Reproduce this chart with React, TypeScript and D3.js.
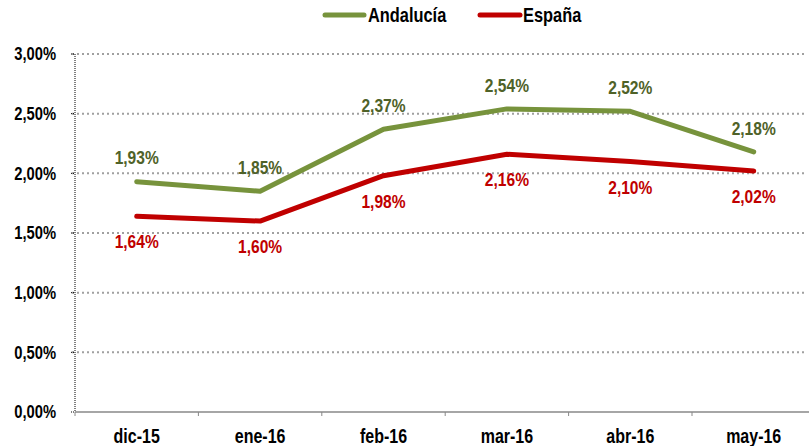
import React from "react";
import * as d3 from "d3";

const categories = ["dic-15", "ene-16", "feb-16", "mar-16", "abr-16", "may-16"];
const andalucia = [1.93, 1.85, 2.37, 2.54, 2.52, 2.18];
const espana = [1.64, 1.6, 1.98, 2.16, 2.1, 2.02];
const yTicks = [0, 0.5, 1, 1.5, 2, 2.5, 3];

const W = 809;
const H = 446;
const FONT = "'Liberation Sans', Arial, sans-serif";
const GREEN = "#77933C";
const GREEN_LABEL = "#4F6228";
const RED = "#C00000";
const NARROW = 0.82;

const fmt = (v: number) => v.toFixed(2).replace(".", ",") + "%";

function T(props: {
  x: number;
  y: number;
  size: number;
  fill: string;
  anchor?: "start" | "middle" | "end";
  children: React.ReactNode;
}) {
  return (
    <text
      transform={`translate(${props.x},${props.y}) scale(${NARROW},1)`}
      dy="0.35em"
      textAnchor={props.anchor || "start"}
      fontSize={props.size}
      fontWeight="bold"
      fill={props.fill}
    >
      {props.children}
    </text>
  );
}

export default function App() {
  const x = d3.scaleBand<string>().domain(categories).range([75, 815.4]);
  const y = d3.scaleLinear().domain([0, 3]).range([412, 54]);
  const cx = (c: string) => (x(c) as number) + x.bandwidth() / 2;
  const line = d3
    .line<number>()
    .x((_, i) => cx(categories[i]))
    .y((d) => y(d));

  return (
    <svg
      width={W}
      height={H}
      style={{ position: "absolute", left: 0, top: 0, background: "#fff" }}
      fontFamily={FONT}
    >
      {yTicks.slice(1).map((t) => (
        <line
          key={t}
          x1={72}
          x2={806}
          y1={y(t)}
          y2={y(t)}
          stroke="#A0A0A0"
          strokeWidth={2}
          strokeDasharray="2,3"
        />
      ))}
      {yTicks.map((t) => (
        <g key={"yl" + t}>
          <line x1={71} x2={75} y1={y(t)} y2={y(t)} stroke="#000" strokeWidth={1} strokeDasharray="1,1" />
          <T x={56} y={y(t)} size={18} fill="#000" anchor="end">
            {fmt(t)}
          </T>
        </g>
      ))}
      <line x1={75} x2={75} y1={y(3)} y2={y(0)} stroke="#000" strokeWidth={1} strokeDasharray="1,1" />
      <line x1={75} x2={809} y1={y(0)} y2={y(0)} stroke="#888" strokeWidth={1.5} />
      {categories.map((c) => (
        <line
          key={"t" + c}
          x1={x(c) as number}
          x2={x(c) as number}
          y1={y(0)}
          y2={y(0) + 4}
          stroke="#888"
          strokeWidth={1}
        />
      ))}
      {categories.map((c) => (
        <T key={"xl" + c} x={cx(c)} y={436} size={19.5} fill="#000" anchor="middle">
          {c}
        </T>
      ))}
      <path d={line(andalucia) || ""} fill="none" stroke={GREEN} strokeWidth={5} strokeLinecap="round" strokeLinejoin="round" />
      <path d={line(espana) || ""} fill="none" stroke={RED} strokeWidth={5} strokeLinecap="round" strokeLinejoin="round" />
      {andalucia.map((v, i) => (
        <T key={"a" + i} x={cx(categories[i])} y={y(v) - 24} size={19} fill={GREEN_LABEL} anchor="middle">
          {fmt(v)}
        </T>
      ))}
      {espana.map((v, i) => (
        <T key={"e" + i} x={cx(categories[i])} y={y(v) + 25.5} size={19} fill={RED} anchor="middle">
          {fmt(v)}
        </T>
      ))}
      <g>
        <line x1={325} x2={364} y1={15} y2={15} stroke={GREEN} strokeWidth={5} strokeLinecap="round" />
        <T x={368} y={15} size={20} fill="#000">
          Andalucía
        </T>
        <line x1={480} x2={520} y1={15} y2={15} stroke={RED} strokeWidth={5} strokeLinecap="round" />
        <T x={523} y={15} size={20} fill="#000">
          España
        </T>
      </g>
    </svg>
  );
}
